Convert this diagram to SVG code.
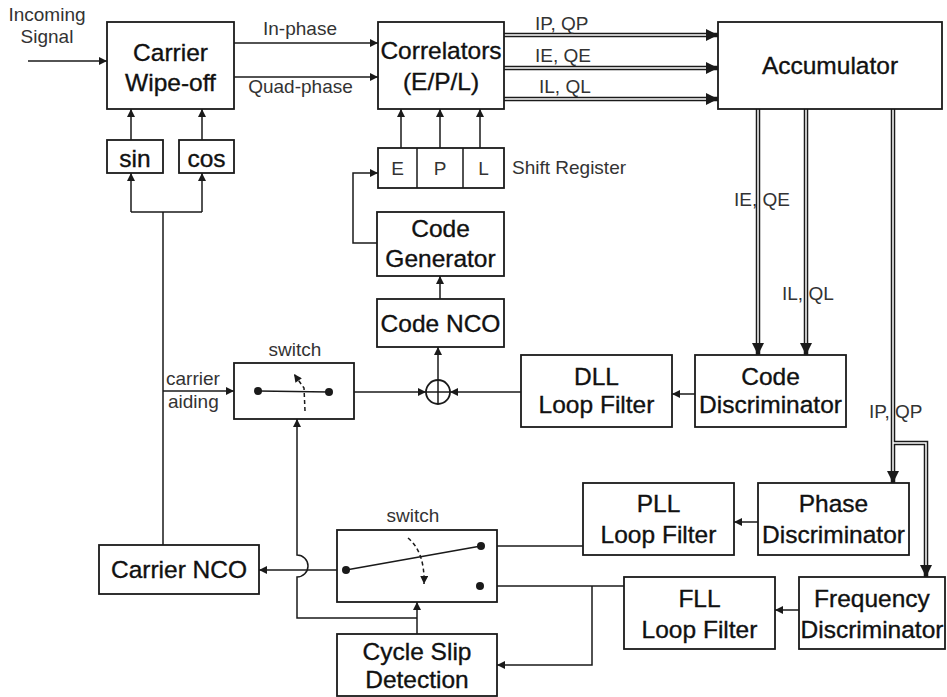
<svg xmlns="http://www.w3.org/2000/svg" width="947" height="697" viewBox="0 0 947 697">
<style>
.box{fill:#fff;stroke:#1a1a1a;stroke-width:1.8}
.ln{fill:none;stroke:#1a1a1a;stroke-width:1.5}
.dash{fill:none;stroke:#1a1a1a;stroke-width:1.5;stroke-dasharray:4 3}
.dblo{fill:none;stroke:#1a1a1a;stroke-width:4.5}
.dbli{fill:none;stroke:#fff;stroke-width:1.5}
.dot{fill:#1a1a1a}
text{font-family:"Liberation Sans",Arial,sans-serif;fill:#111}
.t{font-size:24.5px;text-anchor:middle;stroke:#111;stroke-width:0.35}
.s{font-size:19px;fill:#333}
.sc{font-size:19px;text-anchor:middle;fill:#333}
</style>
<defs>
<marker id="ah" viewBox="0 0 10 10" refX="10" refY="5" markerWidth="9" markerHeight="8" markerUnits="userSpaceOnUse" orient="auto"><path d="M0,0 L10,5 L0,10 z" fill="#1a1a1a"/></marker>
<marker id="ahb" viewBox="0 0 10 10" refX="10" refY="5" markerWidth="13" markerHeight="12" markerUnits="userSpaceOnUse" orient="auto"><path d="M0,0 L10,5 L0,10 z" fill="#1a1a1a"/></marker>
</defs>

<g id="connectors">
  <path class="ln" d="M28,61 H107" marker-end="url(#ah)"/>
  <path class="ln" d="M234,43 H378" marker-end="url(#ah)"/>
  <path class="ln" d="M234,77 H378" marker-end="url(#ah)"/>
  <path class="ln" d="M131,140 V109" marker-end="url(#ah)"/>
  <path class="ln" d="M202,140 V109" marker-end="url(#ah)"/>
  <path class="ln" d="M163,545 V212 M131,212 H202"/>
  <path class="ln" d="M131,212 V173" marker-end="url(#ah)"/>
  <path class="ln" d="M202,212 V173" marker-end="url(#ah)"/>
  <path class="ln" d="M163,391 H234" marker-end="url(#ah)"/>
  <path class="ln" d="M329,392 H426" marker-end="url(#ah)"/>
  <path class="ln" d="M521,392 H450" marker-end="url(#ah)"/>
  <path class="ln" d="M695,394 H672" marker-end="url(#ah)"/>
  <path class="ln" d="M438,380 V347" marker-end="url(#ah)"/>
  <path class="ln" d="M440,299 V276" marker-end="url(#ah)"/>
  <path class="ln" d="M377,243 H353 V173 H378" marker-end="url(#ah)"/>
  <path class="ln" d="M401,148 V109" marker-end="url(#ah)"/>
  <path class="ln" d="M440,148 V109" marker-end="url(#ah)"/>
  <path class="ln" d="M480,148 V109" marker-end="url(#ah)"/>
  <path class="dblo" d="M504,35 H718" marker-end="url(#ahb)"/>
  <path class="dbli" d="M504,35 H706"/>
  <path class="dblo" d="M504,68 H718" marker-end="url(#ahb)"/>
  <path class="dbli" d="M504,68 H706"/>
  <path class="dblo" d="M504,99 H718" marker-end="url(#ahb)"/>
  <path class="dbli" d="M504,99 H706"/>
  <path class="dblo" d="M758,109 V355" marker-end="url(#ahb)"/>
  <path class="dbli" d="M758,109 V343"/>
  <path class="dblo" d="M806,109 V355" marker-end="url(#ahb)"/>
  <path class="dbli" d="M806,109 V343"/>
  <path class="dblo" d="M893,109 V483" marker-end="url(#ahb)"/>
  <path class="dblo" d="M893,443 H926 V577" marker-end="url(#ahb)"/>
  <path class="dbli" d="M893,109 V471"/>
  <path class="dbli" d="M893,443 H926 V565"/>
  <path class="ln" d="M758,522 H734" marker-end="url(#ah)"/>
  <path class="ln" d="M799,610 H775" marker-end="url(#ah)"/>
  <path class="ln" d="M583,546 H481"/>
  <path class="ln" d="M624,586 H480"/>
  <path class="ln" d="M592,586 V665 H497" marker-end="url(#ah)"/>
  <path class="ln" d="M417,634 V602" marker-end="url(#ah)"/>
  <path class="ln" d="M417,618 H297 V577 A11,11 0 0 0 297,555 V419" marker-end="url(#ah)"/>
  <path class="ln" d="M346,570 H259" marker-end="url(#ah)"/>
</g>

<g id="carrier-wipeoff"><rect class="box" x="107" y="22" width="127" height="87"/><text class="t" x="170.5" y="61">Carrier</text><text class="t" x="170.5" y="91">Wipe-off</text></g>
<g id="correlators"><rect class="box" x="378" y="22" width="126" height="87"/><text class="t" x="441" y="59">Correlators</text><text class="t" x="441" y="90">(E/P/L)</text></g>
<g id="accumulator"><rect class="box" x="718" y="22" width="224" height="87"/><text class="t" x="830" y="74">Accumulator</text></g>
<g id="sin"><rect class="box" x="107" y="140" width="56" height="33"/><text class="t" x="135" y="167">sin</text></g>
<g id="cos"><rect class="box" x="179" y="140" width="55" height="33"/><text class="t" x="206.5" y="167">cos</text></g>
<g id="shift-register"><rect class="box" x="378" y="148" width="126" height="40"/><path class="ln" d="M417,148 V188 M463,148 V188"/><text class="sc" x="397.5" y="175">E</text><text class="sc" x="440" y="175">P</text><text class="sc" x="483.5" y="175">L</text><text class="s" x="512" y="174">Shift Register</text></g>
<g id="code-generator"><rect class="box" x="377" y="212" width="127" height="64"/><text class="t" x="440.5" y="237">Code</text><text class="t" x="440.5" y="267">Generator</text></g>
<g id="code-nco"><rect class="box" x="377" y="299" width="127" height="48"/><text class="t" x="440.5" y="332">Code NCO</text></g>
<g id="sum"><circle class="box" cx="438" cy="392" r="12"/><path class="ln" d="M426,392 H450 M438,380 V404"/></g>
<g id="dll-filter"><rect class="box" x="521" y="355" width="151" height="72"/><text class="t" x="596.5" y="385">DLL</text><text class="t" x="596.5" y="413">Loop Filter</text></g>
<g id="code-discriminator"><rect class="box" x="695" y="355" width="151" height="72"/><text class="t" x="770.5" y="385">Code</text><text class="t" x="770.5" y="413">Discriminator</text></g>
<g id="switch1"><rect class="box" x="234" y="363" width="120" height="56"/><path class="ln" d="M258,391 L329,392"/><circle class="dot" cx="258" cy="391" r="4"/><circle class="dot" cx="329" cy="392" r="4"/><path class="dash" d="M305,411 L304,388 L294,374" marker-end="url(#ah)"/><text class="sc" x="295" y="356">switch</text></g>
<g id="switch2"><rect class="box" x="337" y="530" width="160" height="72"/><path class="ln" d="M346,570 L481,546"/><circle class="dot" cx="346" cy="570" r="4"/><circle class="dot" cx="481" cy="546" r="4"/><circle class="dot" cx="480" cy="586" r="4"/><path class="dash" d="M408,538 Q425,552 424,584" marker-end="url(#ah)"/><text class="sc" x="413" y="522">switch</text></g>
<g id="carrier-nco"><rect class="box" x="99" y="545" width="160" height="49"/><text class="t" x="179" y="578">Carrier NCO</text></g>
<g id="pll-filter"><rect class="box" x="583" y="483" width="151" height="72"/><text class="t" x="658.5" y="512">PLL</text><text class="t" x="658.5" y="543">Loop Filter</text></g>
<g id="phase-discriminator"><rect class="box" x="758" y="483" width="151" height="72"/><text class="t" x="833.5" y="512">Phase</text><text class="t" x="833.5" y="543">Discriminator</text></g>
<g id="fll-filter"><rect class="box" x="624" y="577" width="151" height="72"/><text class="t" x="699.5" y="607">FLL</text><text class="t" x="699.5" y="638">Loop Filter</text></g>
<g id="frequency-discriminator"><rect class="box" x="799" y="577" width="146" height="72"/><text class="t" x="872" y="607">Frequency</text><text class="t" x="872" y="638">Discriminator</text></g>
<g id="cycle-slip"><rect class="box" x="337" y="634" width="160" height="62"/><text class="t" x="417" y="660">Cycle Slip</text><text class="t" x="417" y="688">Detection</text></g>

<g id="labels">
  <text class="sc" x="47" y="21">Incoming</text>
  <text class="sc" x="47" y="43">Signal</text>
  <text class="sc" x="300" y="35">In-phase</text>
  <text class="sc" x="300.5" y="93">Quad-phase</text>
  <text class="s" x="535" y="30">IP, QP</text>
  <text class="s" x="535" y="62">IE, QE</text>
  <text class="s" x="539" y="93">IL, QL</text>
  <text class="s" x="734" y="206">IE, QE</text>
  <text class="s" x="782" y="300">IL, QL</text>
  <text class="s" x="869" y="418">IP, QP</text>
  <text class="s" x="166" y="385">carrier</text>
  <text class="s" x="168" y="408">aiding</text>
</g>
</svg>
